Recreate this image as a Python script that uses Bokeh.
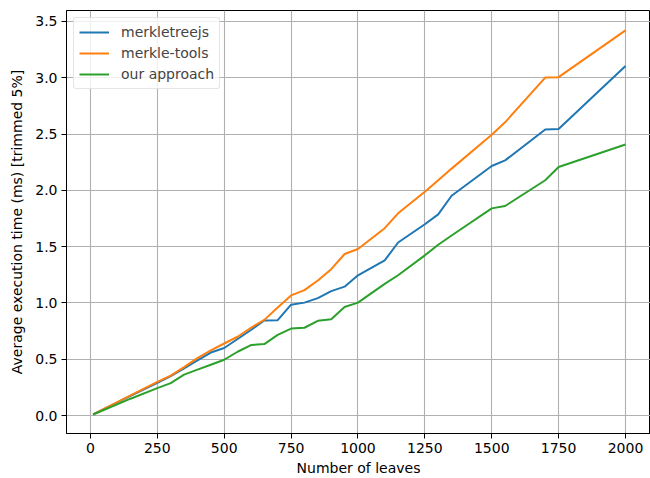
from bokeh.plotting import figure
from bokeh.models import Range1d, FixedTicker, NumeralTickFormatter, Legend, LegendItem
from bokeh.embed import file_html
from bokeh.resources import INLINE

leaves = [10, 150, 250, 300, 350, 400, 450, 500, 550, 600, 650, 700, 750, 800, 850, 900,
          950, 1000, 1100, 1150, 1250, 1300, 1350, 1500, 1550, 1700, 1750, 2000]
merkletreejs = [0.01, 0.175, 0.29, 0.35, 0.42, 0.49, 0.56, 0.60, 0.68, 0.76, 0.845, 0.847,
                0.985, 1.003, 1.043, 1.105, 1.145, 1.246, 1.378, 1.537, 1.699, 1.787, 1.952,
                2.216, 2.266, 2.54, 2.545, 3.104]
merkle_tools = [0.01, 0.18, 0.30, 0.355, 0.43, 0.51, 0.58, 0.64, 0.70, 0.78, 0.85, 0.96,
                1.067, 1.114, 1.20, 1.30, 1.435, 1.479, 1.664, 1.796, 1.987, 2.09, 2.193,
                2.493, 2.604, 3.001, 3.005, 3.42]
our_approach = [0.01, 0.15, 0.244, 0.288, 0.364, 0.408, 0.452, 0.496, 0.567, 0.626, 0.635,
                0.717, 0.773, 0.78, 0.842, 0.855, 0.964, 1.003, 1.17, 1.246, 1.423, 1.517,
                1.599, 1.84, 1.861, 2.09, 2.207, 2.407]
series_names = ["merkletreejs", "merkle-tools", "our approach"]
colors = ["#1f77b4", "#ff7f0e", "#2ca02c"]
x_ticks = [0, 250, 500, 750, 1000, 1250, 1500, 1750, 2000]
y_ticks = [0.0, 0.5, 1.0, 1.5, 2.0, 2.5, 3.0, 3.5]

FONT = "DejaVu Sans"
FS = "14px"

p = figure(width=650, height=478, output_backend="svg", toolbar_location=None,
           x_range=Range1d(-89.5, 2093.5), y_range=Range1d(-0.159, 3.597),
           min_border_left=66, min_border_right=0, min_border_top=10, min_border_bottom=43)
p.outline_line_color = "black"
p.outline_line_width = 1
p.background_fill_color = "white"
p.border_fill_color = "white"

for ax in (p.xaxis[0], p.yaxis[0]):
    ax.major_label_text_font = FONT
    ax.major_label_text_font_size = FS
    ax.major_label_text_color = "black"
    ax.axis_label_text_font = FONT
    ax.axis_label_text_font_size = FS
    ax.axis_label_text_font_style = "normal"
    ax.axis_label_text_color = "black"
    ax.axis_line_color = "black"
    ax.major_tick_line_color = "black"
    ax.major_tick_out = 5
    ax.major_tick_in = 0
    ax.minor_tick_line_color = None
    ax.major_label_standoff = 4

p.xaxis.ticker = FixedTicker(ticks=x_ticks)
p.yaxis.ticker = FixedTicker(ticks=y_ticks)
p.yaxis.formatter = NumeralTickFormatter(format="0.0")
p.xaxis.axis_label = "Number of leaves"
p.yaxis.axis_label = "Average execution time (ms) [trimmed 5%]"
p.xaxis.axis_label_standoff = 4
p.yaxis.axis_label_standoff = 7

p.grid.grid_line_color = "#b0b0b0"
p.grid.grid_line_width = 1.1

renderers = []
for ys, c in zip([merkletreejs, merkle_tools, our_approach], colors):
    r = p.line(leaves, ys, line_color=c, line_width=2)
    renderers.append(r)

legend = Legend(items=[LegendItem(label=n, renderers=[r]) for n, r in zip(series_names, renderers)],
                location="top_left")
legend.margin = 7
legend.padding = 5
legend.spacing = 3
legend.glyph_width = 30
legend.glyph_height = 18
legend.label_height = 18
legend.label_standoff = 12
legend.label_text_font = FONT
legend.label_text_font_size = FS
legend.border_line_color = "#cccccc"
legend.border_line_width = 1
legend.border_radius = 3
legend.background_fill_alpha = 0.8
p.add_layout(legend)

open("out.html", "w").write(file_html(p, INLINE))
